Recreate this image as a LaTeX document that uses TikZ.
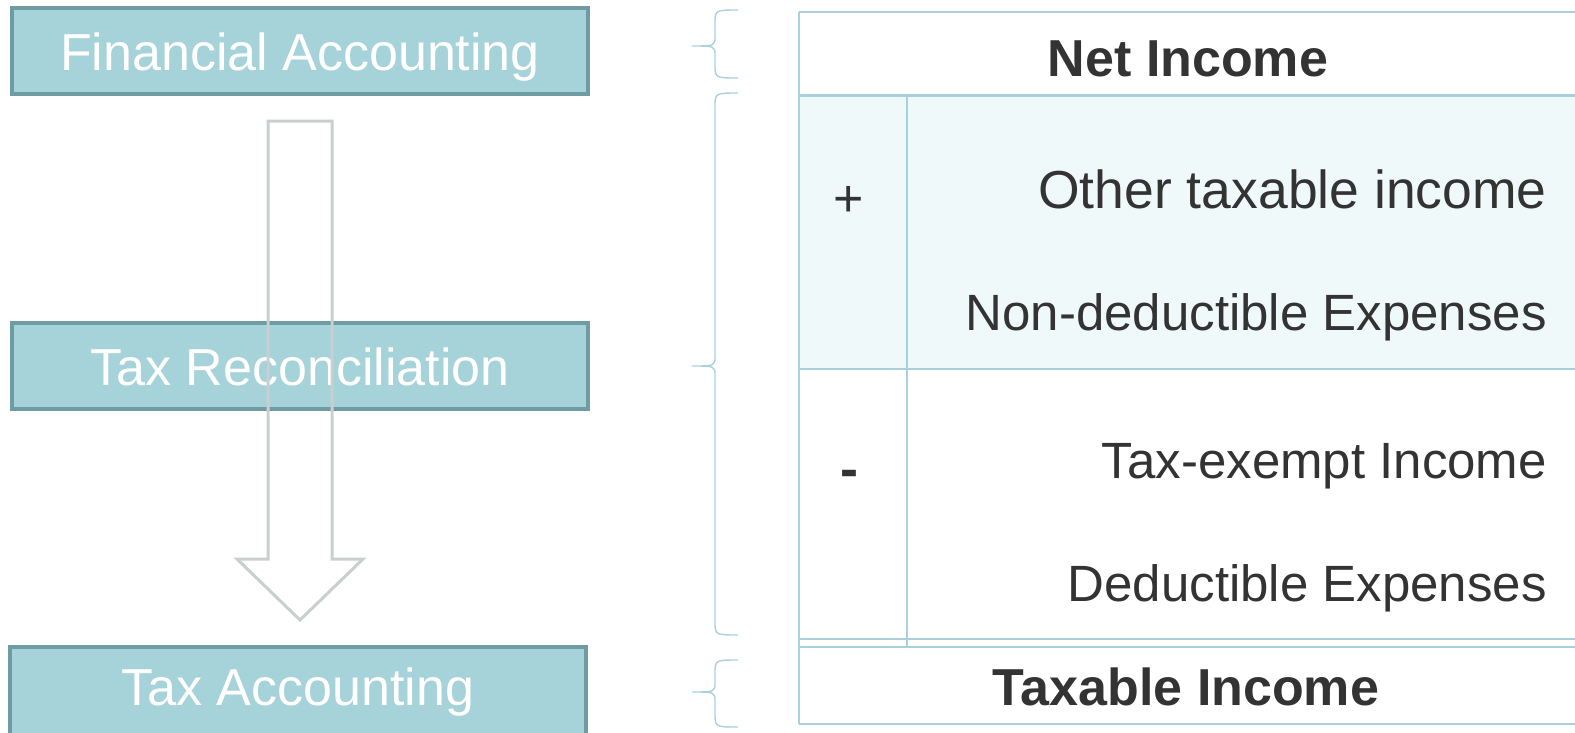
\documentclass[tikz,border=0pt]{standalone}
\usepackage{fontspec}
\setmainfont{Liberation Sans}
\definecolor{boxfill}{HTML}{A6D2D9}
\definecolor{boxedge}{HTML}{6F9BA3}
\definecolor{tline}{HTML}{A9D1DB}
\definecolor{rowfill}{HTML}{EFF9F9}
\definecolor{arrowc}{HTML}{C9CFCF}
\definecolor{txt}{HTML}{333333}
\tikzset{
  stage/.style={draw=boxedge, line width=3.5pt, fill=boxfill, minimum width=576pt, minimum height=86pt, inner sep=0pt},
  stagetext/.style={text=white, font=\fontsize{52}{60}\selectfont, inner sep=0pt},
  item/.style={text=txt, font=\fontsize{51}{60}\selectfont, inner sep=0pt, anchor=base east},
  total/.style={text=txt, font=\fontsize{52}{60}\selectfont\bfseries, inner sep=0pt, anchor=base},
  sign/.style={text=txt, font=\fontsize{52}{60}\selectfont, inner sep=0pt},
  tab/.style={draw=tline, line width=2.2pt},
  bracec/.style={draw=tline, line width=1.4pt},
}
\newcommand{\mybrace}[3]{%
  \draw[bracec] (738,#1) .. controls (715,#1) .. (715,#1+14) -- (715,#3-10) .. controls (715,#3) .. (692,#3) .. controls (715,#3) .. (715,#3+10) -- (715,#2-14) .. controls (715,#2) .. (738,#2);}
\begin{document}
\begin{tikzpicture}[x=1pt,y=-1pt]
\useasboundingbox (0,0) rectangle (1575,732);
\clip (0,0) rectangle (1575,732);
% left column boxes
\node[stage] (fa) at (300,51) {};
\node[stagetext, anchor=base] (fat) at (300,70) {Financial Accounting};
\node[stage] (tr) at (300,366) {};
\node[stagetext, anchor=base] (trt) at (300,385) {Tax Reconciliation};
\node[stage, minimum height=90pt] (ta) at (298,692) {};
\node[stagetext, anchor=base] (tat) at (298,705) {Tax Accounting};
% hollow arrow
\draw[arrowc, line width=3pt, line join=miter]
  (268,121) -- (332,121) -- (332,559) -- (363,559) -- (300,620) -- (237,559) -- (268,559) -- cycle;
% braces
\mybrace{10}{78}{46}
\mybrace{93}{635}{366}
\mybrace{660}{727}{692}
% table
\fill[rowfill] (799,95) rectangle (1575,369);
\draw[tab] (799,12) -- (1575,12);
\draw[tab, line width=3pt] (799,95) -- (1575,95);
\draw[tab] (799,369) -- (1575,369);
\draw[tab] (799,639) -- (1575,639);
\draw[tab] (799,647) -- (1575,647);
\draw[tab] (799,724) -- (1575,724);
\draw[tab] (799,12) -- (799,724);
\draw[tab, line width=1.6pt] (907,95) -- (907,647);
\node[total] (ni) at (1188,76) {Net Income};
\node[sign] (plus) at (849,201) {+};
\node[sign, font=\fontsize{54}{60}\selectfont\bfseries] (minus) at (849,479) {-};
\node[item, font=\fontsize{53.5}{60}\selectfont] (oti) at (1547,208) {Other taxable income};
\node[item] (nde) at (1547,330) {Non-deductible Expenses};
\node[item] (tei) at (1547,478) {Tax-exempt Income};
\node[item] (de) at (1547,601) {Deductible Expenses};
\node[total] (ti) at (1186,705) {Taxable Income};
\end{tikzpicture}
\end{document}
